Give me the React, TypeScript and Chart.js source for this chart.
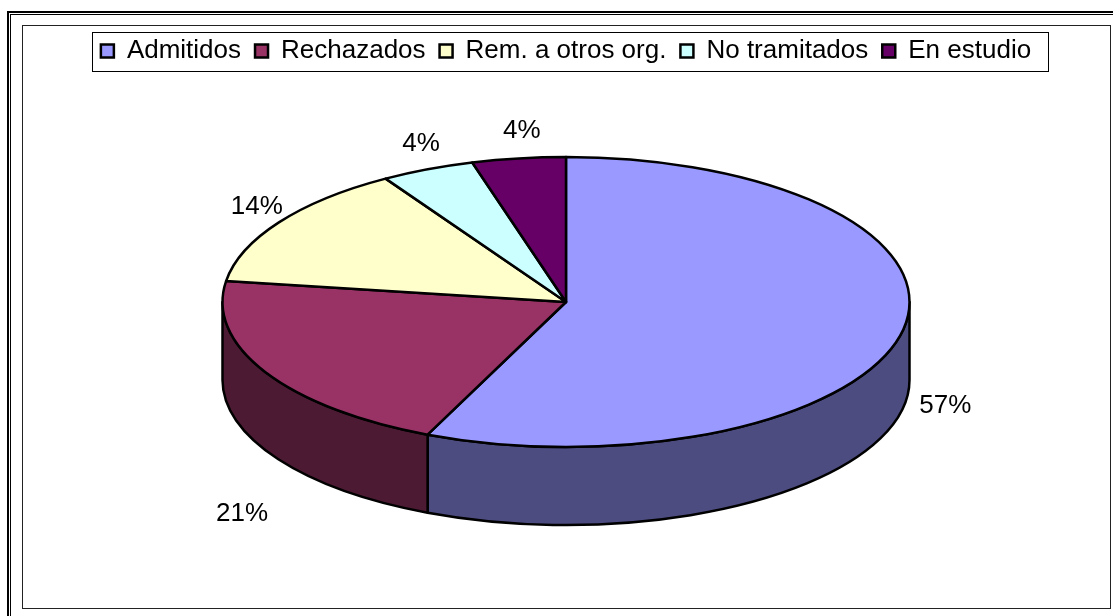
import React, { useEffect, useRef } from 'react';
import { Chart, registerables } from 'chart.js';

Chart.register(...registerables);

// ---- data ----
const categories = ['Admitidos', 'Rechazados', 'Rem. a otros org.', 'No tramitados', 'En estudio'];
const shares = [56.6, 20.7, 13.9, 4.4, 4.4];
const topColors = ['#9999FF', '#993366', '#FFFFCC', '#CCFFFF', '#660066'];
const sideColors = ['#4C4C80', '#4D1A33', '#80806A', '#668080', '#330033'];

const FONT = '"Liberation Sans", Arial, sans-serif';
const RX_RATIO = 343.5 / 145;
const DEPTH_RATIO = 78 / 145;

const framePlugin = {
  id: 'frame',
  beforeDraw(chart: any) {
    const ctx = chart.ctx;
    const W = chart.width;
    const H = chart.height;
    ctx.save();
    ctx.fillStyle = '#000';
    ctx.fillRect(7, 11, W - 7, 2);
    ctx.fillRect(7, 11, 2, H - 11);
    ctx.fillRect(10, 14, W - 10, 1);
    ctx.fillRect(10, 14, 1, H - 14);
    ctx.strokeStyle = '#222';
    ctx.lineWidth = 1;
    ctx.strokeRect(22.5, 25.5, 1088, 583);
    ctx.restore();
  },
  afterDraw(chart: any) {
    const legend = chart.legend;
    if (!legend || !legend.legendHitBoxes || !legend.legendHitBoxes.length) return;
    const hb = legend.legendHitBoxes;
    const first = hb[0];
    const last = hb[hb.length - 1];
    const left = first.left - 9;
    const right = last.left + last.width + 17;
    const top = first.top - 6;
    const bottom = first.top + first.height + 7;
    const ctx = chart.ctx;
    ctx.save();
    ctx.strokeStyle = '#000';
    ctx.lineWidth = 1;
    ctx.strokeRect(Math.round(left) + 0.5, Math.round(top) + 0.5, Math.round(right - left), Math.round(bottom - top));
    ctx.restore();
  },
};

const pie3dPlugin = {
  id: 'pie3d',
  beforeDatasetsDraw(chart: any) {
    const meta = chart.getDatasetMeta(0);
    const arcs = meta.data;
    if (!arcs || !arcs.length) return false;
    const ctx = chart.ctx;
    const p0 = arcs[0].getProps(['x', 'y', 'outerRadius'], true);
    const cx = p0.x;
    const cy = p0.y;
    const r = p0.outerRadius;
    const rx = r * RX_RATIO;
    const ry = r;
    const depth = r * DEPTH_RATIO;
    ctx.save();
    ctx.lineWidth = 2.5;
    ctx.strokeStyle = '#000';
    ctx.lineJoin = 'round';

    // sides (front half only)
    arcs.forEach((arc: any, i: number) => {
      const { startAngle, endAngle } = arc.getProps(['startAngle', 'endAngle'], true);
      const a = Math.max(startAngle, 0);
      const b = Math.min(endAngle, Math.PI);
      if (b <= a) return;
      ctx.beginPath();
      ctx.ellipse(cx, cy, rx, ry, 0, a, b);
      ctx.ellipse(cx, cy + depth, rx, ry, 0, b, a, true);
      ctx.closePath();
      ctx.fillStyle = sideColors[i];
      ctx.fill();
      ctx.stroke();
    });

    // top faces
    arcs.forEach((arc: any, i: number) => {
      const { startAngle, endAngle } = arc.getProps(['startAngle', 'endAngle'], true);
      ctx.beginPath();
      ctx.moveTo(cx, cy);
      ctx.ellipse(cx, cy, rx, ry, 0, startAngle, endAngle);
      ctx.closePath();
      ctx.fillStyle = topColors[i];
      ctx.fill();
      ctx.stroke();
    });

    // percentage labels
    const total = shares.reduce((s, v) => s + v, 0);
    ctx.font = `26px ${FONT}`;
    ctx.fillStyle = '#000';
    ctx.textAlign = 'center';
    ctx.textBaseline = 'middle';
    arcs.forEach((arc: any, i: number) => {
      const { startAngle, endAngle } = arc.getProps(['startAngle', 'endAngle'], true);
      const mid = (startAngle + endAngle) / 2;
      const c = Math.cos(mid);
      const s = Math.sin(mid);
      const x = cx + (rx + 36) * c + 8;
      const y = s > 0 ? cy + 24 + ry * 2.68 * s : cy + (ry + 28) * s;
      ctx.fillText(Math.round((shares[i] / total) * 100) + '%', x, y);
    });
    ctx.restore();
    return false;
  },
};

export default function App() {
  const canvasRef = useRef<HTMLCanvasElement | null>(null);

  useEffect(() => {
    if (!canvasRef.current) return;
    const chart = new Chart(canvasRef.current, {
      type: 'pie',
      data: {
        labels: categories,
        datasets: [
          {
            data: shares,
            backgroundColor: topColors,
            borderColor: '#000',
            borderWidth: 2.5,
          },
        ],
      },
      options: {
        responsive: true,
        maintainAspectRatio: false,
        animation: false,
        events: [],
        radius: 145,
        layout: { padding: { top: 24, left: 19, right: 0, bottom: 86 } },
        plugins: {
          tooltip: { enabled: false },
          legend: {
            display: true,
            position: 'top',
            labels: {
              color: '#000',
              font: { size: 26, family: FONT },
              boxWidth: 13,
              boxHeight: 13,
              padding: 14,
            },
          },
        },
      } as any,
      plugins: [framePlugin, pie3dPlugin],
    });
    return () => chart.destroy();
  }, []);

  return (
    <div style={{ position: 'fixed', left: 0, top: 0, width: 1113, height: 616, background: '#fff' }}>
      <canvas ref={canvasRef} />
    </div>
  );
}
